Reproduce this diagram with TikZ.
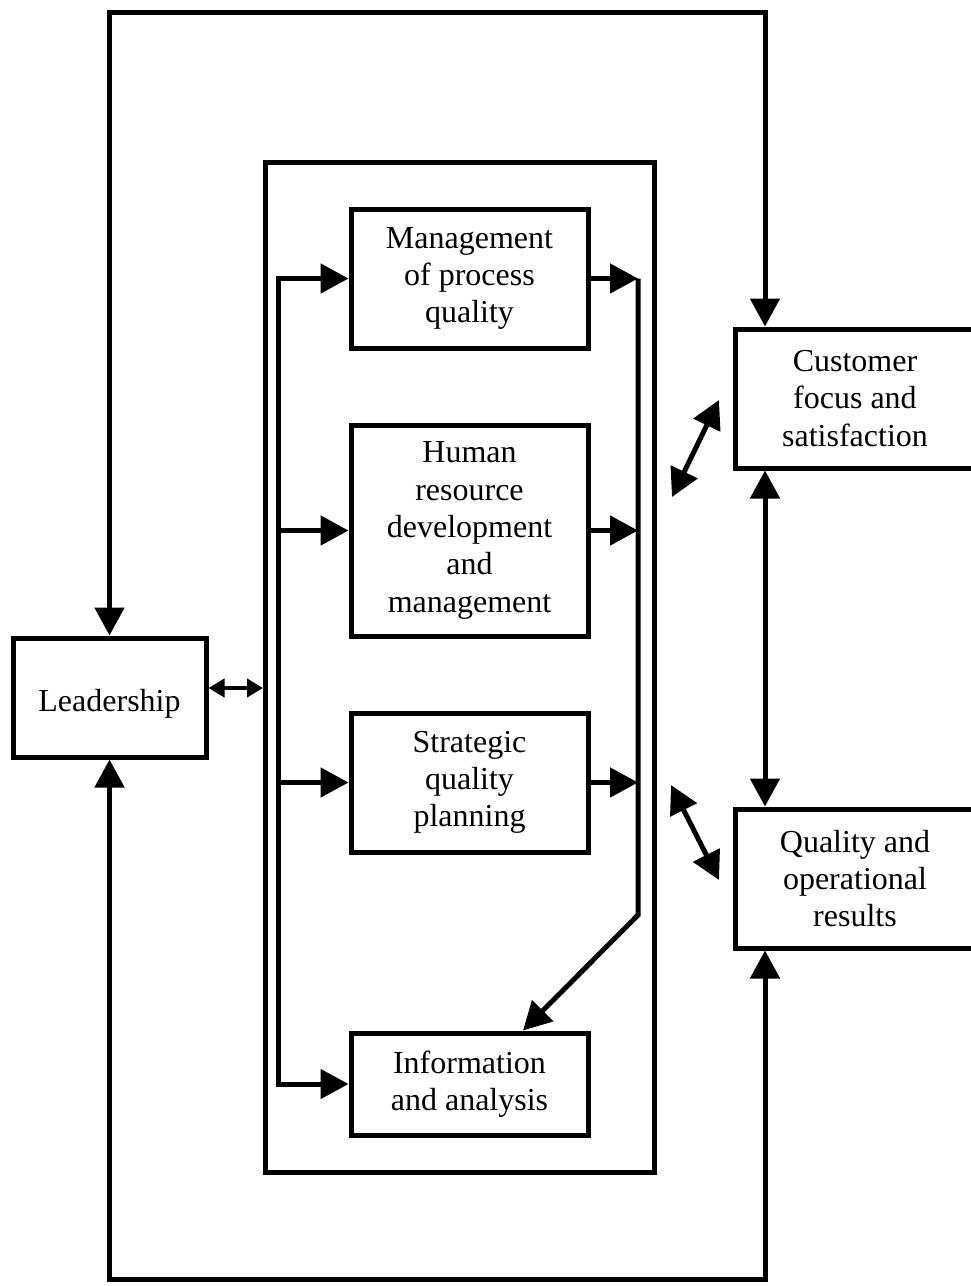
\documentclass[tikz,border=0pt]{standalone}
\usepackage{fontspec}
\setmainfont{Liberation Serif}
\usetikzlibrary{arrows.meta,calc}

\tikzset{
  box/.style={draw, line width=5pt, inner sep=0pt, align=center,
              font=\fontsize{32}{37.3}\selectfont},
  link/.style={line width=5pt, -{Triangle[length=28pt,width=29pt]}},
  biglink/.style={line width=5pt, {Triangle[length=28pt,width=29pt]}-{Triangle[length=28pt,width=29pt]}},
  smalllink/.style={line width=4pt, {Triangle[length=16pt,width=18pt]}-{Triangle[length=16pt,width=18pt]}},
  plain/.style={line width=5pt}
}

\begin{document}
\begin{tikzpicture}[x=1pt,y=-1pt]
\useasboundingbox (0,0) rectangle (970,1286);

% enclosing frame of the four core categories
\node[draw, line width=5pt, minimum width=388.5pt, minimum height=1010pt] (frame) at (459.75,667) {};

% category boxes
\node[box, minimum width=237pt, minimum height=139pt] (mgmt)  at (469.5,278.5) {Management\\of process\\quality};
\node[box, minimum width=237pt, minimum height=211pt] (human) at (469.5,530.5) {Human\\resource\\development\\and\\management};
\node[box, minimum width=237pt, minimum height=139pt] (strat) at (469.5,782.5) {Strategic\\quality\\planning};
\node[box, minimum width=237pt, minimum height=102pt] (info)  at (469.5,1084) {Information\\and analysis};

\node[box, minimum width=193pt, minimum height=119pt] (lead) at (109.5,697.5) {\raisebox{-6pt}[\height][\depth]{Leadership}};
\node[box, minimum width=240pt, minimum height=139pt] (cust) at (855,398.5) {Customer\\focus and\\satisfaction};
\node[box, minimum width=240pt, minimum height=139pt] (qual) at (855,878.5) {Quality and\\operational\\results};

% helper coordinates
\coordinate (busL) at (278,0);
\coordinate (busR) at (638,0);
\coordinate (bend) at (638,915);
\coordinate (loopR) at (765,0);
\coordinate (topY) at (0,12);
\coordinate (botY) at (0,1279);
\coordinate (c1a) at (672,497);
\coordinate (c1b) at (719,400);
\coordinate (q1a) at (671,785);
\coordinate (q1b) at (719,880);

% left distribution bus
\draw[link] (human.west -| busL) -- (mgmt.west -| busL) -- (mgmt.west);
\draw[link] (human.west -| busL) -- (human.west);
\draw[link] (strat.west -| busL) -- (strat.west);
\draw[link] (human.west -| busL) -- (info.west -| busL) -- (info.west);

% right collecting bus
\draw[link] (mgmt.east) -- (mgmt.east -| busR);
\draw[link] (human.east) -- (human.east -| busR);
\draw[link] (strat.east) -- (strat.east -| busR);
\draw[link] (mgmt.east -| busR) -- (bend) -- ([xshift=53.5pt]info.north);

% leadership to the frame
\draw[smalllink] ([yshift=9.5pt]lead.east) -- ([yshift=9.5pt]lead.east -| frame.west);

% outer feedback loops
\draw[biglink] (lead.north) -- (lead.north |- topY) -- (loopR |- topY) -- (loopR |- cust.north);
\draw[biglink] (lead.south) -- (lead.south |- botY) -- (loopR |- botY) -- (loopR |- qual.south);
\draw[biglink] (loopR |- cust.south) -- (loopR |- qual.north);

% exchanges between the frame and the results
\draw[biglink] (c1a) -- (c1b);
\draw[biglink] (q1a) -- (q1b);
\end{tikzpicture}
\end{document}
